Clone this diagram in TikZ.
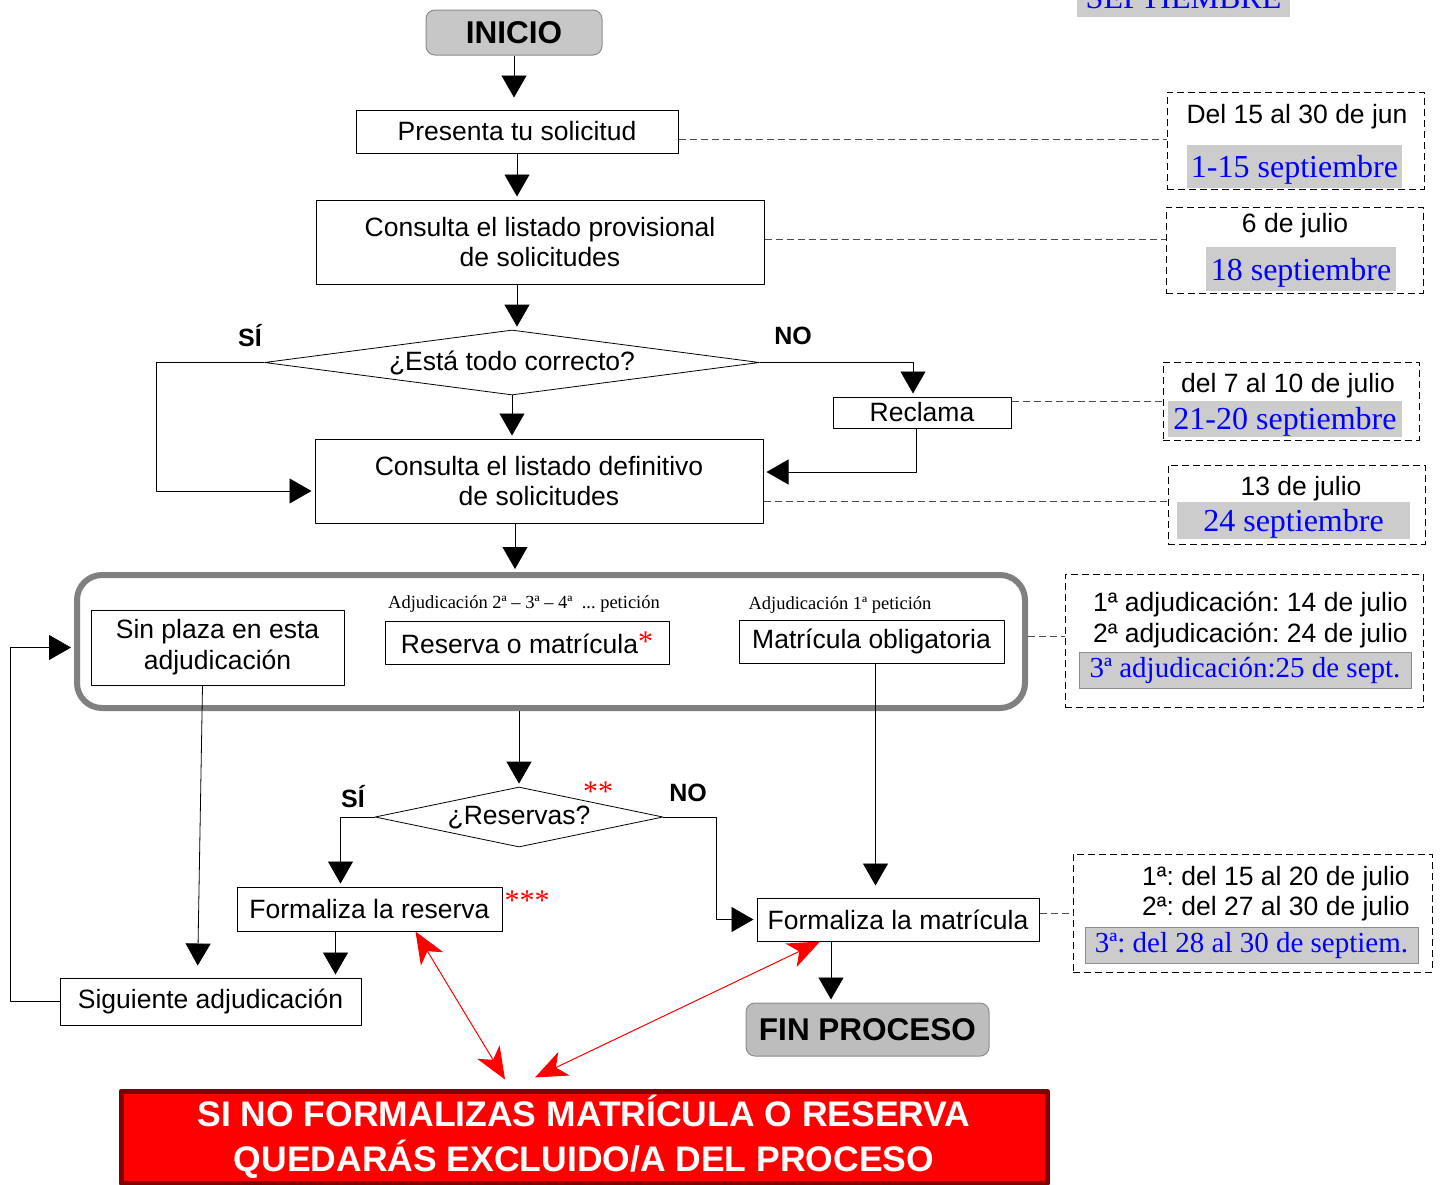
\documentclass[tikz,border=0pt]{standalone}
\usepackage{fontspec}
\setmainfont{Liberation Sans}
\newfontfamily\serifa{Liberation Serif}
\usetikzlibrary{shapes.geometric,arrows.meta}
\definecolor{grisfondo}{HTML}{CCCCCC}
\definecolor{grismarco}{HTML}{808080}
\definecolor{rojooscuro}{HTML}{800000}
\frenchspacing
\begin{document}
\begin{tikzpicture}[x=1pt, y=-1pt, line join=round,
  font=\fontsize{26.5}{30}\selectfont,
  caja/.style={draw, line width=1pt, inner sep=2pt, align=center},
  terminal/.style={draw=black!45, fill=black!22, rounded corners=9pt, line width=1pt,
    font=\fontsize{31.5}{36}\selectfont\bfseries},
  decision/.style={draw, diamond, aspect=6, inner sep=0pt, line width=0.8pt},
  marco/.style={draw=grismarco, line width=6pt, rounded corners=25pt},
  rotulo/.style={font=\fontsize{25}{28}\selectfont\bfseries},
  etiqueta/.style={font=\serifa\fontsize{18.5}{20}\selectfont},
  nota/.style={text=red, font=\serifa\fontsize{30}{30}\selectfont},
  plazo/.style={draw, dashed, dash pattern=on 7pt off 4pt, line width=0.8pt},
  fecha/.style={fill=grisfondo, text=blue, inner sep=0pt, text height=29pt, text depth=7pt,
    font=\serifa\fontsize{32}{34}\selectfont},
  fechab/.style={fecha, draw=black!45, line width=1pt, text height=20pt, text depth=6pt,
    font=\serifa\fontsize{29}{30}\selectfont},
  cartel/.style={fill=red, draw=rojooscuro, line width=5pt, text=white, align=center,
    font=\fontsize{35.5}{45}\selectfont\bfseries},
  flecha/.style={-{Triangle[width=25pt,length=22pt]}, line width=0.8pt, shorten >=3pt},
  alerta/.style={red, line width=1pt, {Stealth[length=32pt,width=26pt,inset=9pt]}-{Stealth[length=32pt,width=26pt,inset=9pt]}},
  guia/.style={black!70, dashed, dash pattern=on 7pt off 4pt, line width=0.8pt}]
\useasboundingbox (0,0) rectangle (1440,1184);

% diagrama
\node[terminal, minimum width=176, minimum height=45] (inicio) at (514,32.5) {INICIO};
\node[caja, minimum width=322, minimum height=43] (pres) at (517,131.5) {Presenta tu solicitud};
\node[caja, minimum width=448, minimum height=84] (prov) at (540,242) {Consulta el listado provisional\\de solicitudes};
\node[decision, minimum width=495, minimum height=63] (ok) at (512,362.5) {¿Está todo correcto?};
\node[caja, minimum width=178, minimum height=31] (recl) at (922,412.5) {Reclama};
\node[caja, minimum width=448, minimum height=84] (def) at (539,481) {Consulta el listado definitivo\\de solicitudes};
\node[rotulo] (si1) at (250,336) {SÍ};
\node[rotulo] (no1) at (793,336) {NO};

\node[marco, minimum width=948, minimum height=133] (adj) at (551,641.5) {};
\node[caja, minimum width=253, minimum height=75, font=\fontsize{26.5}{31}\selectfont] (sin) at (217.5,647.5) {Sin plaza en esta\\adjudicación};
\node[caja, minimum width=284, minimum height=43] (resmat) at (527,642.5) {Reserva o matrícula\raisebox{2pt}{\color{red}\serifa\fontsize{30}{30}\selectfont *}};
\node[caja, minimum width=265, minimum height=43] (mob) at (871.5,641.5) {Matrícula obligatoria};
\node[etiqueta] (et1) at (524,604) {Adjudicación 2ª – 3ª – 4ª\ \ ... petición};
\node[etiqueta] (et2) at (840,605) {Adjudicación 1ª petición};

\node[decision, minimum width=288, minimum height=60] (res) at (519,817) {¿Reservas?};
\node[rotulo] (si2) at (353,797) {SÍ};
\node[rotulo] (no2) at (688,793) {NO};
\node[nota] (ast2) at (598,792) {**};
\node[caja, minimum width=265, minimum height=44] (freser) at (369.5,909) {Formaliza la reserva};
\node[nota] (ast3) at (527,901) {***};
\node[caja, minimum width=282, minimum height=43] (fmat) at (898,919.5) {Formaliza la matrícula};
\node[caja, minimum width=301, minimum height=47] (sig) at (210.5,1001.5) {Siguiente adjudicación};
\node[terminal, fill=black!26, minimum width=243, minimum height=53] (fin) at (867.5,1029.5) {FIN PROCESO};
\node[cartel, minimum width=926, minimum height=92] (cartel) at (584,1137) {SI NO FORMALIZAS MATRÍCULA O RESERVA\\QUEDARÁS EXCLUIDO/A DEL PROCESO};

% plazos
\node[fecha, minimum width=213, minimum height=40] (sept) at (1183.5,-3) {SEPTIEMBRE};
\node[plazo, minimum width=257, minimum height=97] (f1) at (1295.5,140.5) {};
\node (f1a) at (1297,117) {Del 15 al 30 de jun};
\node[fecha, minimum width=215, minimum height=43] (f1b) at (1294.5,166.5) {1-15 septiembre};
\node[plazo, minimum width=257, minimum height=86] (f2) at (1294.5,250) {};
\node (f2a) at (1295,226) {6 de julio};
\node[fecha, minimum width=190, minimum height=44] (f2b) at (1301,269) {18 septiembre};
\node[plazo, minimum width=256, minimum height=78] (f3) at (1291,401) {};
\node (f3a) at (1288,386) {del 7 al 10 de julio};
\node[fecha, minimum width=234, minimum height=35] (f3b) at (1285,418.5) {21-20 septiembre};
\node[plazo, minimum width=257, minimum height=79] (f4) at (1296.5,504.5) {};
\node (f4a) at (1301,489) {13 de julio};
\node[fecha, minimum width=233, minimum height=37] (f4b) at (1293.5,520.5) {24 septiembre};
\node[plazo, minimum width=358, minimum height=133] (f5) at (1244,640.5) {};
\node[anchor=east, inner sep=0pt] (f5a) at (1408,604) {1ª adjudicación: 14 de julio};
\node[anchor=east, inner sep=0pt] (f5b) at (1408,635) {2ª adjudicación: 24 de julio};
\node[fechab, minimum width=332, minimum height=36] (f5c) at (1245,670) {3ª adjudicación:25 de sept.};
\node[plazo, minimum width=359, minimum height=118] (f6) at (1252.5,913) {};
\node[anchor=east, inner sep=0pt] (f6a) at (1410,879) {1ª: del 15 al 20 de julio};
\node[anchor=east, inner sep=0pt] (f6b) at (1410,909) {2ª: del 27 al 30 de julio};
\node[fechab, minimum width=333, minimum height=36] (f6c) at (1251.5,945) {3ª: del 28 al 30 de septiem.};

% conectores
\draw[flecha, shorten >=12pt] (inicio.south) -- (inicio.south |- pres.north);
\draw[flecha] (pres.south) -- (pres.south |- prov.north);
\draw[flecha] ([xshift=-23]prov.south) -- ([xshift=-23]prov.south |- ok.north);
\draw[flecha] (ok.south) -- (ok.south |- def.north);
\draw[flecha] (ok.west) -- ++(-108,0) |- ([yshift=-10]def.west);
\draw[flecha] (ok.east) -| ([xshift=-9]recl.north);
\draw[flecha] ([xshift=-6]recl.south) |- ([yshift=9]def.east);
\draw[flecha] ([xshift=-24]def.south) -- ([xshift=-24]def.south |- adj.north);
\draw[flecha] (res.north |- adj.south) -- (res.north);
\draw[flecha] (res.west) -| ([xshift=-29]freser.north);
\draw[flecha] (res.east) -- ++(53,0) |- (fmat.west);
\draw[flecha, shorten >=12pt] ([xshift=4]mob.south) -- ([xshift=4]mob.south |- fmat.north);
\draw[flecha] ([xshift=-67]fmat.south) -- ([xshift=-67]fmat.south |- fin.north);
\draw[flecha, shorten >=12pt] ([xshift=-15]sin.south) -- ([xshift=-13]sig.north);
\draw[flecha] ([xshift=-34]freser.south) -- ([xshift=-34]freser.south |- sig.north);
\draw[flecha] (sig.west) -- ++(-49,0) |- (adj.west |- sin.west);
\draw[alerta] ([xshift=46]freser.south) -- ([xshift=-79,yshift=9]cartel.north);
\draw[alerta] ([xshift=-78]fmat.south) -- ([xshift=-49,yshift=11]cartel.north);

\draw[guia] ([yshift=-7.5]pres.east) -- ([yshift=-7.5]pres.east -| f1.west);
\draw[guia] ([yshift=3]prov.east) -- ([yshift=3]prov.east -| f2.west);
\draw[guia] ([yshift=11]recl.east) -- ([yshift=11]recl.east -| f3.west);
\draw[guia] ([yshift=-20]def.east) -- ([yshift=-20]def.east -| f4.west);
\draw[guia] ([yshift=5.5]adj.east) -- ([yshift=5.5]adj.east -| f5.west);
\draw[guia] ([yshift=6.5]fmat.east) -- ([yshift=6.5]fmat.east -| f6.west);
\end{tikzpicture}
\end{document}
